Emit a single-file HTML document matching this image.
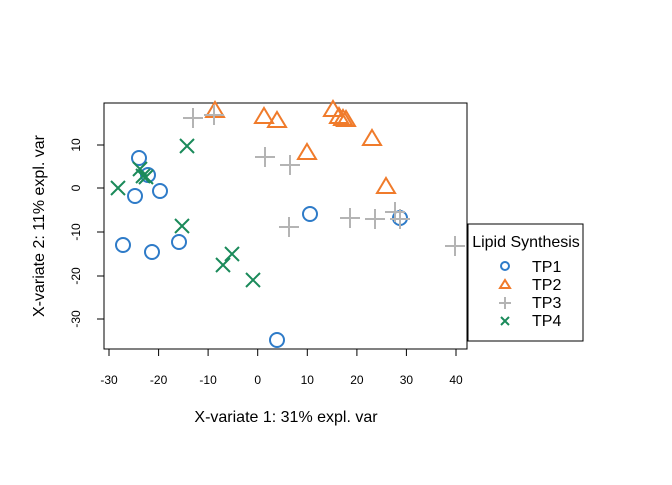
<!DOCTYPE html><html><head><style>body{margin:0;background:#fff}</style></head><body>
<svg width="672" height="480" xmlns="http://www.w3.org/2000/svg" font-family="Liberation Sans, sans-serif">
<rect x="104" y="103" width="363" height="246" fill="none" stroke="#000"/>
<g stroke="#000">
<line x1="109" y1="349" x2="456" y2="349"/>
<line x1="109" y1="349" x2="109" y2="356"/><line x1="158.6" y1="349" x2="158.6" y2="356"/><line x1="208.1" y1="349" x2="208.1" y2="356"/><line x1="257.7" y1="349" x2="257.7" y2="356"/><line x1="307.3" y1="349" x2="307.3" y2="356"/><line x1="356.9" y1="349" x2="356.9" y2="356"/><line x1="406.4" y1="349" x2="406.4" y2="356"/><line x1="456" y1="349" x2="456" y2="356"/>
<line x1="104" y1="145" x2="104" y2="319"/>
<line x1="97" y1="145" x2="104" y2="145"/><line x1="97" y1="188" x2="104" y2="188"/><line x1="97" y1="232" x2="104" y2="232"/><line x1="97" y1="276" x2="104" y2="276"/><line x1="97" y1="319" x2="104" y2="319"/>
</g>
<g font-size="12" text-anchor="middle">
<text x="109" y="384">-30</text><text x="158.6" y="384">-20</text><text x="208.1" y="384">-10</text><text x="257.7" y="384">0</text><text x="307.3" y="384">10</text><text x="356.9" y="384">20</text><text x="406.4" y="384">30</text><text x="456" y="384">40</text>
<text transform="translate(80,145) rotate(-90)">10</text><text transform="translate(80,188) rotate(-90)">0</text><text transform="translate(80,232) rotate(-90)">-10</text><text transform="translate(80,276) rotate(-90)">-20</text><text transform="translate(80,319) rotate(-90)">-30</text>
</g>
<text x="286" y="422" font-size="16" text-anchor="middle">X-variate 1: 31% expl. var</text>
<text transform="translate(44,226) rotate(-90)" font-size="16" text-anchor="middle">X-variate 2: 11% expl. var</text>
<g fill="none" stroke="#2e7bc8" stroke-width="2">
<circle cx="139" cy="158" r="7"/><circle cx="148" cy="175" r="7"/><circle cx="135" cy="196" r="7"/><circle cx="160" cy="191" r="7"/><circle cx="123" cy="245" r="7"/><circle cx="152" cy="252" r="7"/><circle cx="179" cy="242" r="7"/><circle cx="310" cy="214" r="7"/><circle cx="277" cy="340" r="7"/><circle cx="400" cy="218" r="7"/>
</g>
<g fill="none" stroke="#f07b2b" stroke-width="2">
<path d="M0,-9 L9,6 L-9,6 Z" transform="translate(215,111)"/>
<path d="M0,-9 L9,6 L-9,6 Z" transform="translate(264,117)"/><path d="M0,-9 L9,6 L-9,6 Z" transform="translate(277,121)"/><path d="M0,-9 L9,6 L-9,6 Z" transform="translate(333,110)"/><path d="M0,-9 L9,6 L-9,6 Z" transform="translate(339,117)"/><path d="M0,-9 L9,6 L-9,6 Z" transform="translate(343,119)"/><path d="M0,-9 L9,6 L-9,6 Z" transform="translate(346,120)"/><path d="M0,-9 L9,6 L-9,6 Z" transform="translate(372,139)"/><path d="M0,-9 L9,6 L-9,6 Z" transform="translate(307,153)"/><path d="M0,-9 L9,6 L-9,6 Z" transform="translate(386,187)"/>
</g>
<g stroke="#b4b4b4" stroke-width="2">
<path d="M183,118h20M193,108v20M204,115h20M214,105v20M255,157h20M265,147v20M280,165h20M290,155v20M279,227h20M289,217v20M340,218h20M350,208v20M365,219h20M375,209v20M385,212h20M395,202v20M390,219h20M400,209v20M445,246h20M455,236v20"/>
</g>
<g stroke="#1a8a5a" stroke-width="2">
<path d="M180,139l14,14M194,139l-14,14M133,162l14,14M147,162l-14,14M136,169l14,14M150,169l-14,14M139,170l14,14M153,170l-14,14M111,181l14,14M125,181l-14,14M175,219l14,14M189,219l-14,14M225,247l14,14M239,247l-14,14M216,258l14,14M230,258l-14,14M246,273l14,14M260,273l-14,14"/>
</g>
<rect x="468" y="224" width="115" height="117" fill="#fff" stroke="#000"/>
<text x="526" y="247" font-size="16" text-anchor="middle">Lipid Synthesis</text>
<circle cx="505" cy="266" r="4" fill="none" stroke="#2e7bc8" stroke-width="2"/>
<path d="M505,280 L510,288 L500,288 Z" fill="none" stroke="#f07b2b" stroke-width="2"/>
<path d="M499,303h12M505,297v12" stroke="#b4b4b4" stroke-width="2"/>
<path d="M501,317l8,8M509,317l-8,8" stroke="#1a8a5a" stroke-width="2"/>
<g font-size="16"><text x="532" y="272">TP1</text><text x="532" y="290">TP2</text><text x="532" y="308">TP3</text><text x="532" y="326">TP4</text></g>
</svg>
</body></html>
